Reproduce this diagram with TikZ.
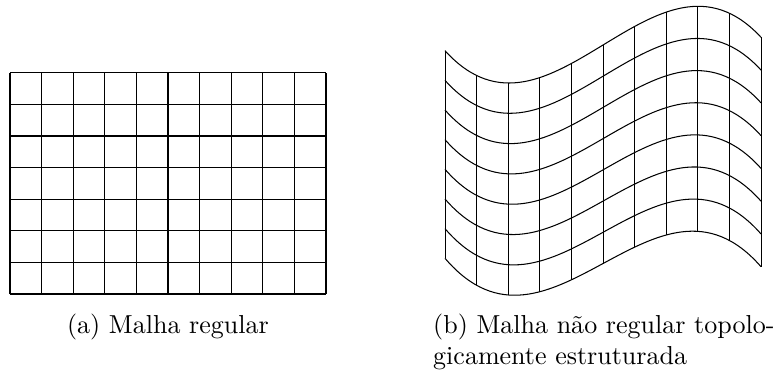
\documentclass[tikz,border=0pt]{standalone}
\usepackage{amsmath}
\usepackage{xcolor}
\usepackage{tikz}

\begin{document}
\begin{tikzpicture}[scale=0.427]
    \useasboundingbox (-0.316,-2.532) rectangle (24.272,9.304);
    % (a) malha regular
    \draw[step=1] (0,0) grid (10,7);
    \node[anchor=base, inner sep=0] (capa) at (5,-1.25) {(a) Malha regular};
    % (b) malha curvilinea
    \foreach \k in {0,...,7}
        \draw (13.766,7.699-\k*0.9385) .. controls (17.098,4.025-\k*0.9714) and (20.434,11.712-\k*1.0042) .. (23.766,8.123-\k*1.0371);
    \path (13.766,7.699) .. controls (17.098,4.025) and (20.434,11.712) .. (23.766,8.123)
        foreach \i [evaluate=\i as \p using \i/10] in {0,...,10} {coordinate[pos=\p] (top\i)};
    \path (13.766,1.129) .. controls (17.098,-2.775) and (20.434,4.683) .. (23.766,0.863)
        foreach \i [evaluate=\i as \p using \i/10] in {0,...,10} {coordinate[pos=\p] (bot\i)};
    \foreach \i in {0,...,10}
        \draw (top\i) -- (bot\i);
    \node[anchor=base west, align=left, inner sep=0] (capb) at (13.377,-2.238) {(b) Malha não regular topolo-\\gicamente estruturada};
\end{tikzpicture}
\end{document}
